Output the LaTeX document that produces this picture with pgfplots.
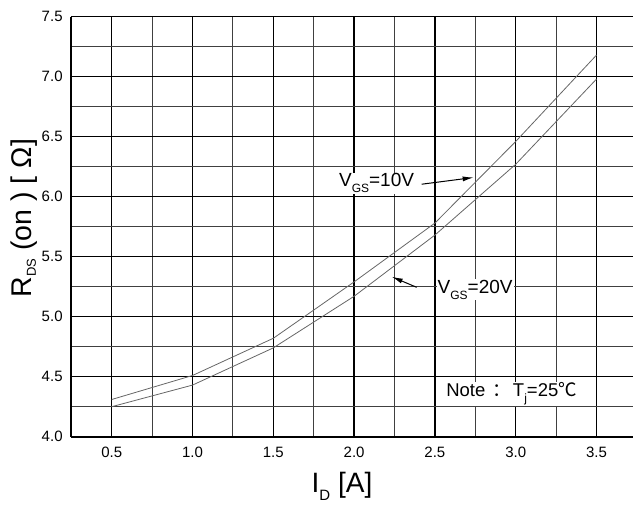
\documentclass[border=0pt]{standalone}
\usepackage{pgfplots}
\pgfplotsset{compat=1.18}
\usepackage{fontspec}
\setmainfont{Liberation Sans}
\newfontfamily\cjk{Noto Sans CJK SC}
\usetikzlibrary{arrows.meta}
\newcommand{\sub}[3]{\raisebox{-#3}{\fontsize{#1}{#1}\selectfont #2}}
\begin{document}
\begin{tikzpicture}
\begin{axis}[
  at={(0,0)}, anchor=south west,
  scale only axis, width=561.7pt, height=420pt,
  xmin=0.25, xmax=3.726, ymin=4, ymax=7.5,
  xtick={0.5,1.0,1.5,2.0,2.5,3.0,3.5},
  ytick={4.0,4.5,5.0,5.5,6.0,6.5,7.0,7.5},
  minor xtick={0.75,1.25,1.75,2.25,2.75,3.25},
  minor ytick={4.25,4.75,5.25,5.75,6.25,6.75,7.25},
  grid=both,
  major grid style={black, line width=1.25pt},
  minor grid style={black!75, line width=0.95pt},
  axis lines=left,
  axis line style={-, black, line width=1.8pt},
  major tick length=0pt, minor tick length=0pt,
  xticklabel style={font=\fontsize{15}{17}\selectfont, anchor=north, inner sep=0pt, yshift=-10.5pt},
  yticklabel style={font=\fontsize{15}{17}\selectfont, anchor=east, inner sep=0pt, xshift=-8.5pt},
  /pgf/number format/fixed,
  /pgf/number format/fixed zerofill,
  /pgf/number format/precision=1,
  /pgf/number format/assume math mode=true,
]
\addplot[black!60, line width=0.8pt] coordinates {
 (0.5,4.31) (1.0,4.51) (1.5,4.82) (2.0,5.29) (2.5,5.78) (3.0,6.46) (3.5,7.18)};
\addplot[black!60, line width=0.8pt] coordinates {
 (0.5,4.25) (1.0,4.43) (1.5,4.74) (2.0,5.17) (2.5,5.68) (3.0,6.27) (3.5,6.98)};
\node[anchor=base west, fill=white, inner sep=1pt, font=\fontsize{19}{20}\selectfont] at (axis cs:1.900,6.081) {V\sub{12}{GS}{6pt}=10V};
\draw[-{Latex[length=11pt,width=5pt]}, line width=1pt] (axis cs:2.418,6.104) -- (axis cs:2.74,6.16);
\node[anchor=base west, fill=white, inner sep=1pt, font=\fontsize{19}{20}\selectfont] at (axis cs:2.510,5.195) {V\sub{12}{GS}{6pt}=20V};
\draw[-{Latex[length=11pt,width=5pt]}, line width=1pt] (axis cs:2.387,5.245) -- (axis cs:2.233,5.333);
\node[anchor=base west, fill=white, inner sep=1pt, font=\fontsize{18.5}{20}\selectfont] at (axis cs:2.563,4.333) {Note \hspace{2pt}{\cjk ：}\hspace{2pt}T\sub{12}{j}{6pt}=25{\cjk ℃}};
\end{axis}
\node[anchor=base, font=\fontsize{28}{30}\selectfont] at (270.7pt,-56.3pt) {I\sub{15}{D}{8pt} [A]};
\node[anchor=base, rotate=90, font=\fontsize{28.5}{30}\selectfont] at (-39.6pt,218.7pt) {R\sub{13}{DS}{4.3pt} (on ) [ Ω]};
\pgfresetboundingbox
\path[use as bounding box] (-71.3pt,-69.3pt) rectangle (561.7pt,436.7pt);
\end{tikzpicture}
\end{document}
